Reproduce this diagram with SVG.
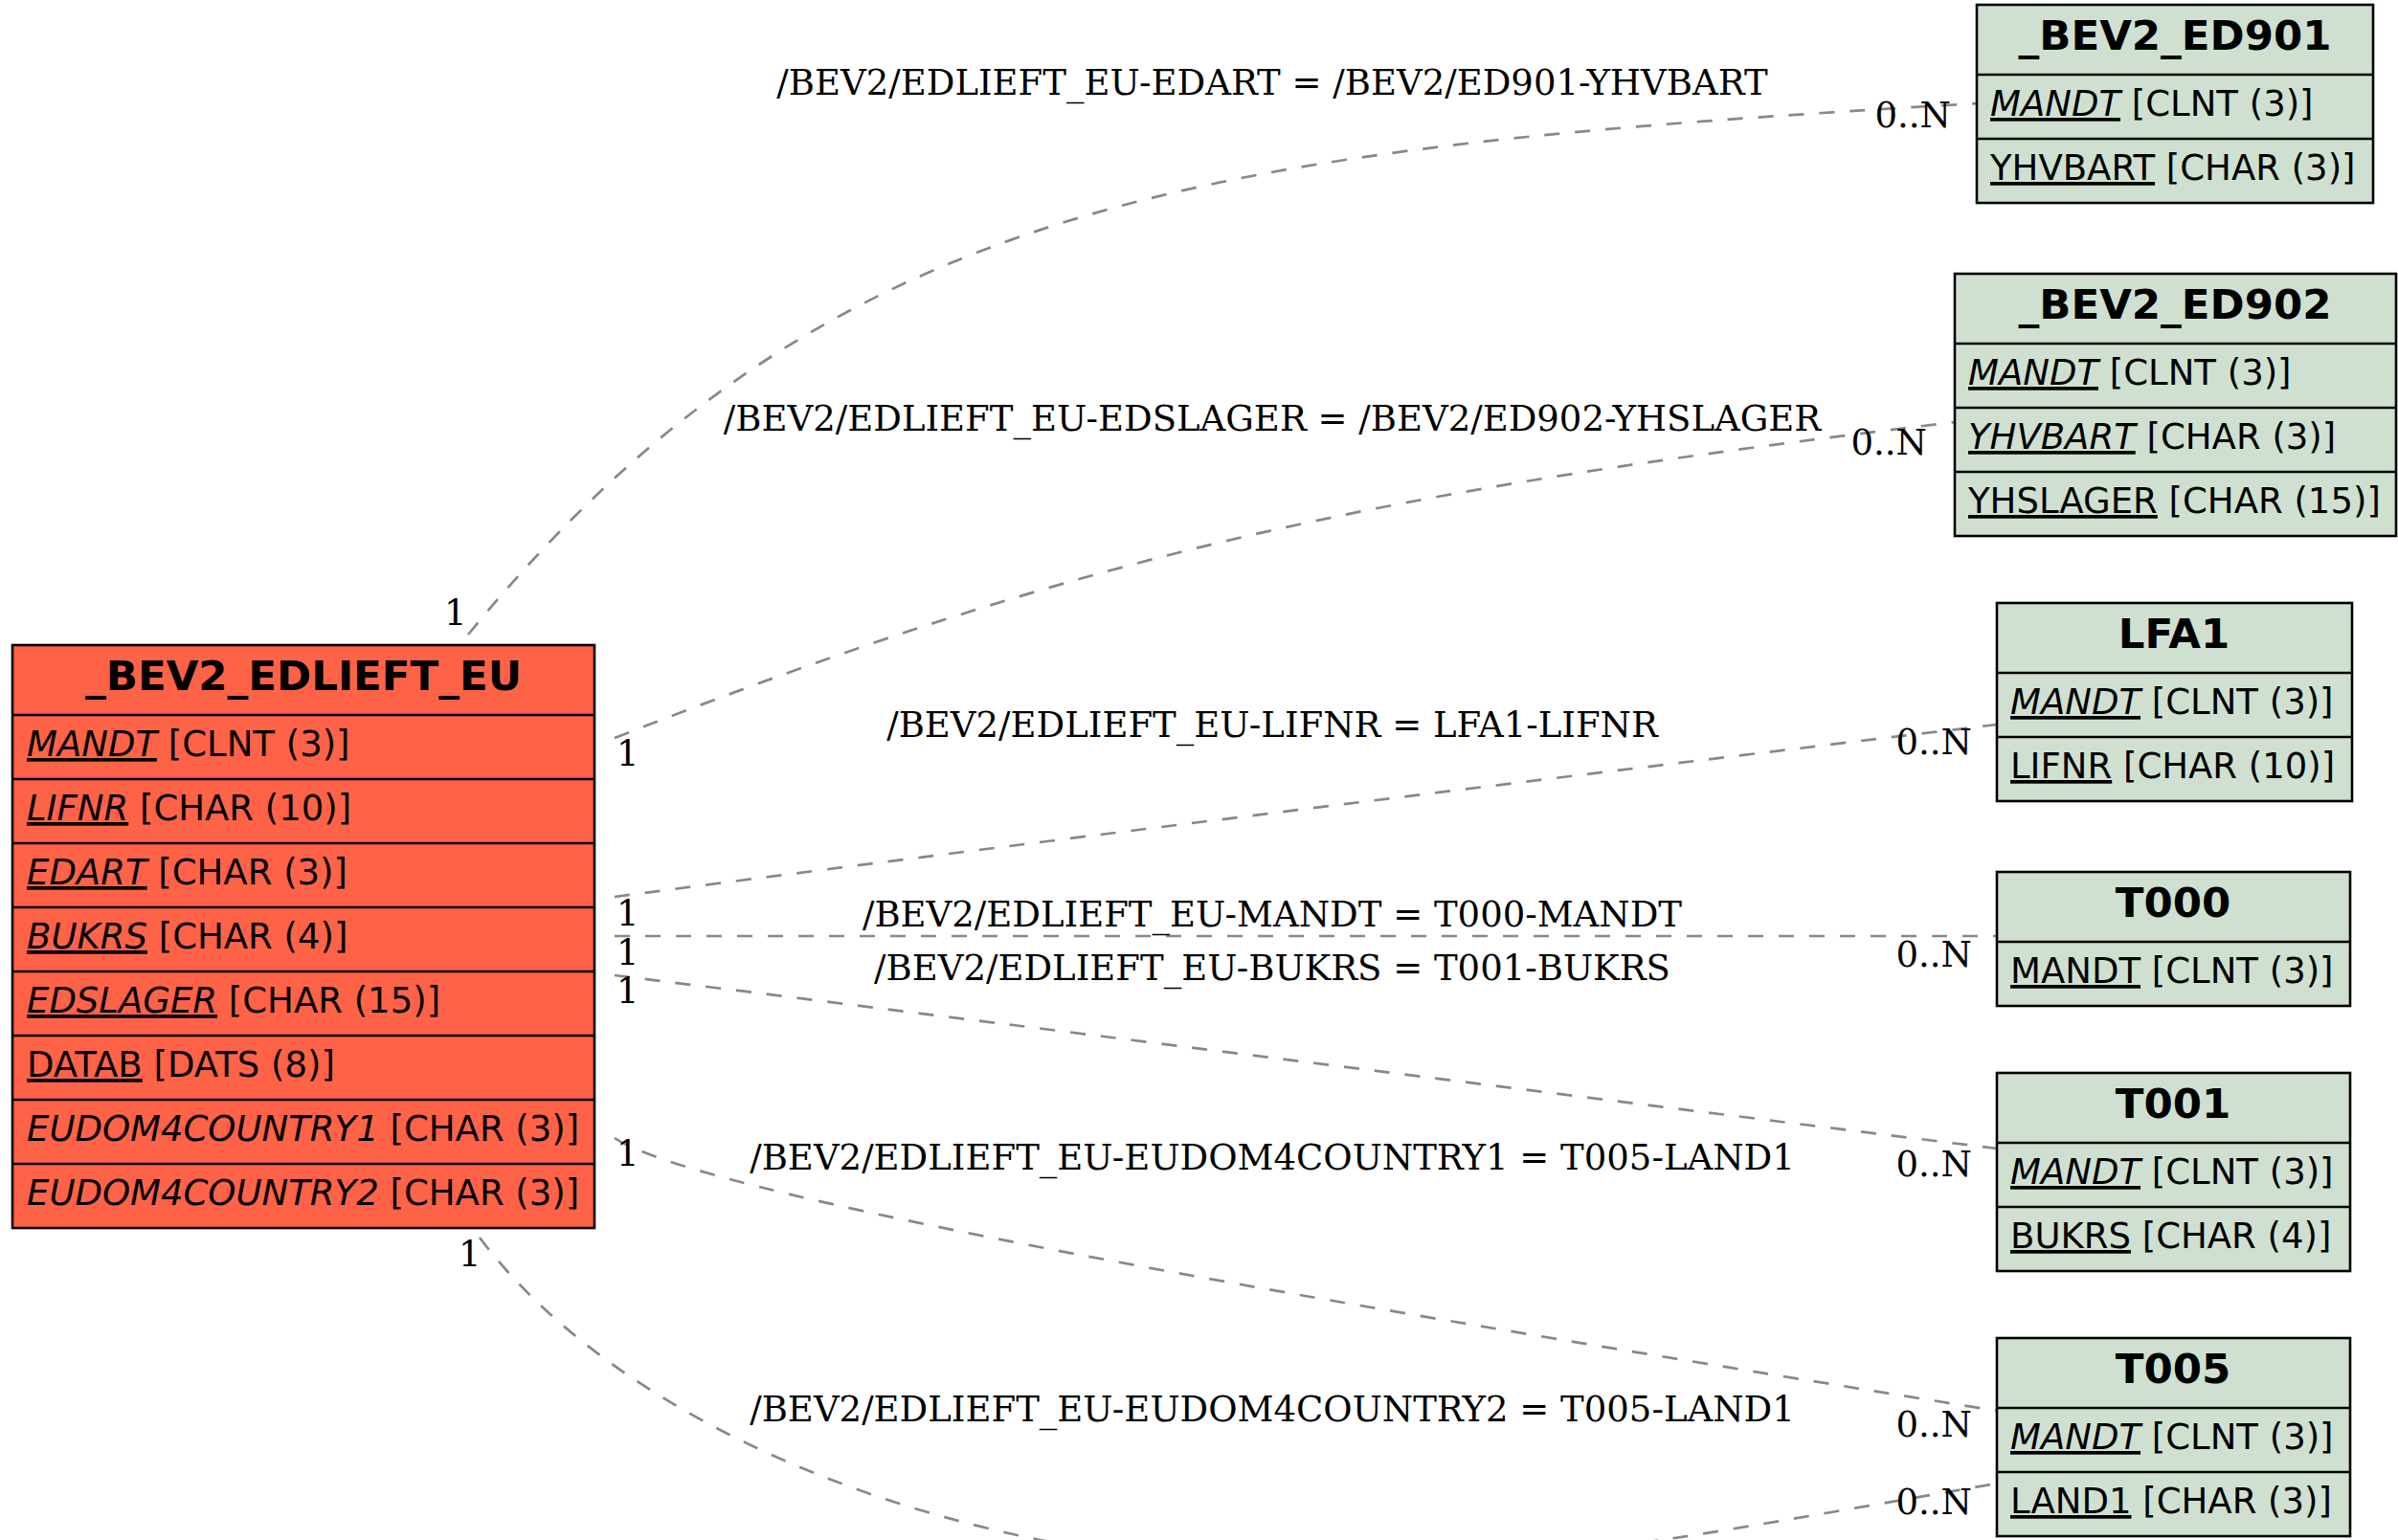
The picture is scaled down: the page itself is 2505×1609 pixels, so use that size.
<svg xmlns="http://www.w3.org/2000/svg" width="2505" height="1609" viewBox="0 0 2505 1609">
<style>
.bg{fill:#ffffff}
.main rect{fill:#ff6347;stroke:#000;stroke-width:2.6}
.ref rect{fill:#d0e0d0;stroke:#000;stroke-width:2.6}
.sep{stroke:#000;stroke-width:2.6}
.hd{font-family:"DejaVu Sans",sans-serif;font-weight:bold;font-size:43.5px;text-anchor:middle;fill:#000}
.fd{font-family:"DejaVu Sans",sans-serif;font-size:37px;fill:#000}
.iu{font-style:italic;text-decoration:underline}
.u{text-decoration:underline}
.i{font-style:italic}
.edge{fill:none;stroke:#888;stroke-width:2.7;stroke-dasharray:16,16}
.lbl{font-family:"DejaVu Serif",serif;font-size:37px;fill:#000;text-anchor:middle}
.card{font-family:"DejaVu Serif",serif;font-size:37px;fill:#000}
.cardN{font-family:"DejaVu Serif",serif;font-size:37px;fill:#000;text-anchor:end}
</style>
<rect class="bg" x="0" y="0" width="2505" height="1609"/>
<g id="connectors">
<path class="edge" d="M489,663 C867,201 1266,155 2066,108"/>
<path class="edge" d="M642,771 C1144,575 1442,513 2042,441"/>
<path class="edge" d="M642,937 C1000,890 1600,815 2086,757"/>
<path class="edge" d="M642,978 L2086,978"/>
<path class="edge" d="M642,1019 C1000,1063 1600,1140 2086,1200"/>
<path class="edge" d="M642,1189 C740,1255 1500,1380 2086,1474"/>
<path class="edge" d="M501,1293 C651,1493 1000,1640 1400,1640 C1600,1640 1850,1590 2086,1550"/>
<text class="lbl" x="1329" y="99">/BEV2/EDLIEFT_EU-EDART = /BEV2/ED901-YHVBART</text>
<text class="lbl" x="1329" y="450">/BEV2/EDLIEFT_EU-EDSLAGER = /BEV2/ED902-YHSLAGER</text>
<text class="lbl" x="1329" y="770">/BEV2/EDLIEFT_EU-LIFNR = LFA1-LIFNR</text>
<text class="lbl" x="1329" y="968">/BEV2/EDLIEFT_EU-MANDT = T000-MANDT</text>
<text class="lbl" x="1329" y="1024">/BEV2/EDLIEFT_EU-BUKRS = T001-BUKRS</text>
<text class="lbl" x="1329" y="1222">/BEV2/EDLIEFT_EU-EUDOM4COUNTRY1 = T005-LAND1</text>
<text class="lbl" x="1329" y="1485">/BEV2/EDLIEFT_EU-EUDOM4COUNTRY2 = T005-LAND1</text>
<text class="card" x="464" y="653">1</text>
<text class="card" x="644" y="800">1</text>
<text class="card" x="644" y="967">1</text>
<text class="card" x="644" y="1008">1</text>
<text class="card" x="644" y="1048">1</text>
<text class="card" x="644" y="1218">1</text>
<text class="card" x="479" y="1323">1</text>
<text class="cardN" x="2038" y="133">0..N</text>
<text class="cardN" x="2013" y="475">0..N</text>
<text class="cardN" x="2060" y="788">0..N</text>
<text class="cardN" x="2060" y="1010">0..N</text>
<text class="cardN" x="2060" y="1229">0..N</text>
<text class="cardN" x="2060" y="1501">0..N</text>
<text class="cardN" x="2060" y="1582">0..N</text>
</g>
<g id="BEV2_EDLIEFT_EU" class="main">
<rect x="13" y="674" width="608" height="609"/>
<line class="sep" x1="13" y1="747" x2="621" y2="747"/>
<line class="sep" x1="13" y1="814" x2="621" y2="814"/>
<line class="sep" x1="13" y1="881" x2="621" y2="881"/>
<line class="sep" x1="13" y1="948" x2="621" y2="948"/>
<line class="sep" x1="13" y1="1015" x2="621" y2="1015"/>
<line class="sep" x1="13" y1="1082" x2="621" y2="1082"/>
<line class="sep" x1="13" y1="1149" x2="621" y2="1149"/>
<line class="sep" x1="13" y1="1216" x2="621" y2="1216"/>
<text class="hd" x="317" y="721">_BEV2_EDLIEFT_EU</text>
<text class="fd" x="28" y="790"><tspan class="iu">MANDT</tspan> [CLNT (3)]</text>
<text class="fd" x="28" y="857"><tspan class="iu">LIFNR</tspan> [CHAR (10)]</text>
<text class="fd" x="28" y="924"><tspan class="iu">EDART</tspan> [CHAR (3)]</text>
<text class="fd" x="28" y="991"><tspan class="iu">BUKRS</tspan> [CHAR (4)]</text>
<text class="fd" x="28" y="1058"><tspan class="iu">EDSLAGER</tspan> [CHAR (15)]</text>
<text class="fd" x="28" y="1125"><tspan class="u">DATAB</tspan> [DATS (8)]</text>
<text class="fd" x="28" y="1192"><tspan class="i">EUDOM4COUNTRY1</tspan> [CHAR (3)]</text>
<text class="fd" x="28" y="1259"><tspan class="i">EUDOM4COUNTRY2</tspan> [CHAR (3)]</text>
</g>
<g id="BEV2_ED901" class="ref">
<rect x="2065" y="5" width="414" height="207"/>
<line class="sep" x1="2065" y1="78" x2="2479" y2="78"/>
<line class="sep" x1="2065" y1="145" x2="2479" y2="145"/>
<text class="hd" x="2272" y="52">_BEV2_ED901</text>
<text class="fd" x="2079" y="121"><tspan class="iu">MANDT</tspan> [CLNT (3)]</text>
<text class="fd" x="2079" y="188"><tspan class="u">YHVBART</tspan> [CHAR (3)]</text>
</g>
<g id="BEV2_ED902" class="ref">
<rect x="2042" y="286" width="461" height="274"/>
<line class="sep" x1="2042" y1="359" x2="2503" y2="359"/>
<line class="sep" x1="2042" y1="426" x2="2503" y2="426"/>
<line class="sep" x1="2042" y1="493" x2="2503" y2="493"/>
<text class="hd" x="2272" y="333">_BEV2_ED902</text>
<text class="fd" x="2056" y="402"><tspan class="iu">MANDT</tspan> [CLNT (3)]</text>
<text class="fd" x="2056" y="469"><tspan class="iu">YHVBART</tspan> [CHAR (3)]</text>
<text class="fd" x="2056" y="536"><tspan class="u">YHSLAGER</tspan> [CHAR (15)]</text>
</g>
<g id="LFA1" class="ref">
<rect x="2086" y="630" width="371" height="207"/>
<line class="sep" x1="2086" y1="703" x2="2457" y2="703"/>
<line class="sep" x1="2086" y1="770" x2="2457" y2="770"/>
<text class="hd" x="2271" y="677">LFA1</text>
<text class="fd" x="2100" y="746"><tspan class="iu">MANDT</tspan> [CLNT (3)]</text>
<text class="fd" x="2100" y="813"><tspan class="u">LIFNR</tspan> [CHAR (10)]</text>
</g>
<g id="T000" class="ref">
<rect x="2086" y="911" width="369" height="140"/>
<line class="sep" x1="2086" y1="984" x2="2455" y2="984"/>
<text class="hd" x="2270" y="958">T000</text>
<text class="fd" x="2100" y="1027"><tspan class="u">MANDT</tspan> [CLNT (3)]</text>
</g>
<g id="T001" class="ref">
<rect x="2086" y="1121" width="369" height="207"/>
<line class="sep" x1="2086" y1="1194" x2="2455" y2="1194"/>
<line class="sep" x1="2086" y1="1261" x2="2455" y2="1261"/>
<text class="hd" x="2270" y="1168">T001</text>
<text class="fd" x="2100" y="1237"><tspan class="iu">MANDT</tspan> [CLNT (3)]</text>
<text class="fd" x="2100" y="1304"><tspan class="u">BUKRS</tspan> [CHAR (4)]</text>
</g>
<g id="T005" class="ref">
<rect x="2086" y="1398" width="369" height="207"/>
<line class="sep" x1="2086" y1="1471" x2="2455" y2="1471"/>
<line class="sep" x1="2086" y1="1538" x2="2455" y2="1538"/>
<text class="hd" x="2270" y="1445">T005</text>
<text class="fd" x="2100" y="1514"><tspan class="iu">MANDT</tspan> [CLNT (3)]</text>
<text class="fd" x="2100" y="1581"><tspan class="u">LAND1</tspan> [CHAR (3)]</text>
</g>
</svg>
